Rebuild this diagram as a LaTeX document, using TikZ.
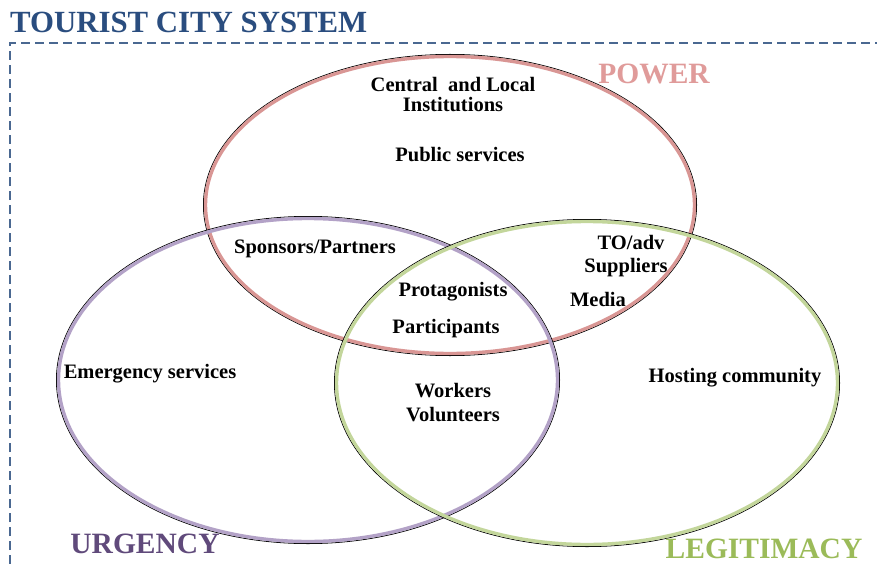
\documentclass[tikz,border=0pt]{standalone}
\usepackage{fontspec}
\setmainfont{Liberation Serif}
\definecolor{titleblue}{HTML}{2A4D7F}
\definecolor{framecol}{HTML}{4A6891}
\definecolor{powerline}{HTML}{D99694}
\definecolor{powertext}{HTML}{E09B9A}
\definecolor{urgline}{HTML}{B3A2C7}
\definecolor{urgtext}{HTML}{604A7B}
\definecolor{legline}{HTML}{C3D69B}
\definecolor{legtext}{HTML}{9BBB59}
\tikzset{
  lbl/.style={font=\bfseries\fontsize{20.5}{22}\selectfont, inner sep=0pt, align=center, yshift=-2pt},
  big/.style={font=\bfseries\fontsize{29.5}{32}\selectfont, inner sep=0pt},
  shadowline/.style={draw=black, line width=0.8pt},
  setline/.style={line width=3.4pt},
}
\begin{document}
\begin{tikzpicture}[x=1pt,y=-1pt]
\useasboundingbox (0,0) rectangle (877,564);
\fill[white] (0,0) rectangle (877,564);
% frame
\coordinate (fTL) at (10,43);
\coordinate (fTR) at (877,43);
\coordinate (fBL) at (10,564);
\draw[framecol, line width=1.7pt, dash pattern=on 9pt off 5pt] (fBL) -- (fTL) -- (fTR);
\node[big, text=titleblue, anchor=west, font=\bfseries\fontsize{30.8}{33}\selectfont] (title) at (10,22) {TOURIST CITY SYSTEM};
% ellipses
\coordinate (P) at (450,205);
\coordinate (U) at (308,380);
\coordinate (L) at (587,383);
\draw[shadowline] (P) ellipse [x radius=246.6pt, y radius=150.6pt];
\draw[powerline, setline] (P) ellipse [x radius=244.5pt, y radius=148.5pt];
\draw[shadowline] (U) ellipse [x radius=251.6pt, y radius=163.6pt];
\draw[urgline, setline] (U) ellipse [x radius=249.5pt, y radius=161.5pt];
\draw[shadowline] (L) ellipse [x radius=252.6pt, y radius=163.6pt];
\draw[legline, setline] (L) ellipse [x radius=250.5pt, y radius=161.5pt];
% set labels
\node[big, text=powertext] (power) at (654,74) {POWER};
\node[big, text=urgtext] (urgency) at (145,544) {URGENCY};
\node[big, text=legtext] (legit) at (764,549) {LEGITIMACY};
% texts
\node[lbl] (central) at (453,82) {Central\ \ and Local};
\node[lbl] (instit) at (453,103) {Institutions};
\node[lbl] (public) at (460,153) {Public services};
\node[lbl] (sponsors) at (315,247) {Sponsors/Partners};
\node[lbl] (toadv) at (631,240) {TO/adv};
\node[lbl] (suppliers) at (626,266) {Suppliers};
\node[lbl] (media) at (598,297) {Media};
\node[lbl] (protag) at (453,290) {Protagonists};
\node[lbl] (partic) at (446,327) {Participants};
\node[lbl] (emerg) at (150,372) {Emergency services};
\node[lbl] (workers) at (453,389) {Workers};
\node[lbl] (volunt) at (453,413) {Volunteers};
\node[lbl] (hosting) at (735,376) {Hosting community};
\end{tikzpicture}
\end{document}
